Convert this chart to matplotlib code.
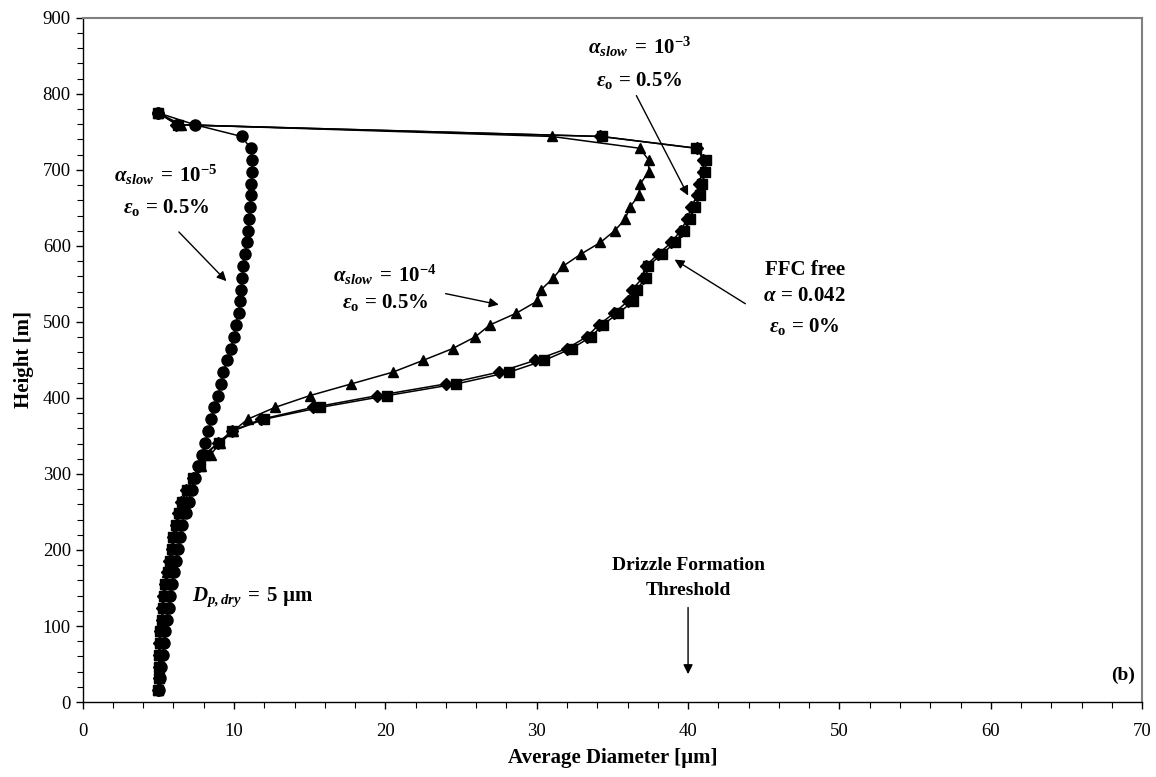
import matplotlib
matplotlib.use("Agg")
import matplotlib.pyplot as plt
from matplotlib.ticker import MultipleLocator

plt.rcParams['font.family'] = ['Liberation Serif', 'DejaVu Serif']
plt.rcParams['mathtext.fontset'] = 'custom'
plt.rcParams['mathtext.rm'] = 'Liberation Serif'
plt.rcParams['mathtext.it'] = 'Liberation Serif:italic'
plt.rcParams['mathtext.bf'] = 'Liberation Serif:bold'
plt.rcParams['mathtext.bfit'] = 'Liberation Serif:bold:italic'

heights = [775, 759.5, 744, 728.5, 713, 697.5, 682, 666.5, 651, 635.5,
           620, 604.5, 589, 573.5, 558, 542.5, 527, 511.5, 496, 480.5,
           465, 449.5, 434, 418.5, 403, 387.5, 372, 356.5, 341, 325.5,
           310, 294.5, 279, 263.5, 248, 232.5, 217, 201.5, 186, 170.5,
           155, 139.5, 124, 108.5, 93, 77.5, 62, 46.5, 31, 15.5]

d_slow5 = [5.0, 7.4, 10.5, 11.1, 11.2, 11.2, 11.15, 11.1, 11.05, 11.0,
           10.95, 10.85, 10.7, 10.6, 10.55, 10.45, 10.4, 10.3, 10.1, 10.0,
           9.8, 9.55, 9.3, 9.15, 8.95, 8.7, 8.5, 8.3, 8.1, 7.9,
           7.65, 7.4, 7.2, 7.0, 6.8, 6.55, 6.45, 6.3, 6.2, 6.05,
           5.9, 5.8, 5.7, 5.55, 5.45, 5.35, 5.3, 5.2, 5.1, 5.05]

d_slow4 = [5.0, 6.5, 31.0, 36.8, 37.4, 37.4, 36.85, 36.75, 36.15, 35.85,
           35.15, 34.2, 32.9, 31.75, 31.1, 30.3, 30.0, 28.65, 26.9, 25.95,
           24.45, 22.5, 20.5, 17.75, 15.0, 12.7, 10.9, 9.95, 9.1, 8.45,
           7.8, 7.3, 6.9, 6.55, 6.35, 6.2, 6.0, 5.9, 5.75, 5.6,
           5.45, 5.35, 5.28, 5.22, 5.13, 5.08, 5.06, 5.04, 5.02, 5.0]

d_ffc = [5.0, 6.2, 34.2, 40.6, 41.0, 41.0, 40.7, 40.6, 40.2, 39.95,
         39.5, 38.9, 38.0, 37.2, 37.0, 36.3, 36.0, 35.1, 34.1, 33.3,
         32.0, 29.9, 27.5, 24.0, 19.45, 15.2, 11.8, 9.85, 8.95, 8.05,
         7.7, 7.28, 6.85, 6.52, 6.32, 6.16, 5.98, 5.88, 5.72, 5.6,
         5.45, 5.34, 5.27, 5.23, 5.12, 5.07, 5.05, 5.04, 5.02, 5.0]

d_slow3 = [5.0, 6.3, 34.3, 40.5, 41.2, 41.15, 40.9, 40.8, 40.45, 40.15,
           39.7, 39.15, 38.25, 37.35, 37.2, 36.6, 36.35, 35.4, 34.35, 33.6,
           32.3, 30.5, 28.2, 24.7, 20.1, 15.7, 12.0, 9.9, 9.0, 8.1,
           7.75, 7.3, 6.88, 6.55, 6.34, 6.18, 6.0, 5.9, 5.74, 5.61,
           5.46, 5.35, 5.28, 5.24, 5.13, 5.08, 5.06, 5.05, 5.02, 5.0]

fig = plt.figure(figsize=(11.56, 7.77), dpi=100)
ax = fig.add_axes([0.0715, 0.0965, 0.9165, 0.8805])

lw = 1.1
ax.plot(d_slow5, heights, color='black', lw=lw, marker='o', ms=8.0, zorder=3)
ax.plot(d_slow4, heights, color='black', lw=lw, marker='^', ms=7.5, zorder=3)
ax.plot(d_ffc, heights, color='black', lw=lw, marker='D', ms=6.0, zorder=3)
ax.plot(d_slow3, heights, color='black', lw=lw, marker='s', ms=7.0, zorder=3)

ax.set_xlim(0, 70)
ax.set_ylim(0, 900)
ax.xaxis.set_major_locator(MultipleLocator(10))
ax.xaxis.set_minor_locator(MultipleLocator(2))
ax.yaxis.set_major_locator(MultipleLocator(100))
ax.yaxis.set_minor_locator(MultipleLocator(20))
ax.tick_params(which='both', direction='out', labelsize=13.5, colors='black')
ax.tick_params(which='major', length=5, width=1)
ax.tick_params(which='minor', length=4, width=0.8)
ax.tick_params(axis='x', pad=10)
for s in ['top', 'right']:
    ax.spines[s].set_color('#808080')
    ax.spines[s].set_linewidth(1.5)
for s in ['left', 'bottom']:
    ax.spines[s].set_linewidth(1.0)

ax.set_xlabel('Average Diameter [µm]', fontsize=15, fontweight='bold', labelpad=6)
ax.set_ylabel('Height [m]', fontsize=15, fontweight='bold', labelpad=6)

fs = 15
alpha_txt = r'$\mathbfit{\alpha}_{\mathbfit{slow}}\;\mathbf{=}\;\mathbf{10^{-%d}}$'
eps_txt = r'$\mathbfit{\varepsilon}_{\mathbf{o}}\,\mathbf{=}\,\mathbf{%s\%%}$'
arrow = dict(arrowstyle='-|>', color='black', lw=1, mutation_scale=14)

ax.text(5.5, 694, alpha_txt % 5, fontsize=fs, ha='center', va='center')
ax.text(5.5, 651, eps_txt % '0.5', fontsize=fs, ha='center', va='center')
ax.annotate('', xy=(9.63, 551), xytext=(6.23, 621), arrowprops=arrow)

ax.text(20.0, 562, alpha_txt % 4, fontsize=fs, ha='center', va='center')
ax.text(20.0, 525, eps_txt % '0.5', fontsize=fs, ha='center', va='center')
ax.annotate('', xy=(27.67, 522), xytext=(23.8, 538), arrowprops=arrow)

ax.text(36.8, 862, alpha_txt % 3, fontsize=fs, ha='center', va='center')
ax.text(36.8, 818, eps_txt % '0.5', fontsize=fs, ha='center', va='center')
ax.annotate('', xy=(40.09, 663), xytext=(36.5, 801), arrowprops=arrow)

ax.text(47.7, 568, 'FFC free', fontsize=fs, fontweight='bold', ha='center', va='center')
ax.text(47.7, 533, r'$\mathbfit{\alpha}\,\mathbf{=}\,\mathbf{0.042}$', fontsize=fs, ha='center', va='center')
ax.text(47.7, 494, eps_txt % '0', fontsize=fs, ha='center', va='center')
ax.annotate('', xy=(38.95, 584), xytext=(43.94, 522), arrowprops=arrow)

ax.text(7.2, 138, r'$\mathbfit{D}_{\mathbfit{p,dry}}\;\mathbf{=}\;\mathbf{5\ µm}$', fontsize=fs, ha='left', va='center')

ax.text(40.0, 180, 'Drizzle Formation', fontsize=14, fontweight='bold', ha='center', va='center')
ax.text(40.0, 147, 'Threshold', fontsize=14, fontweight='bold', ha='center', va='center')
ax.annotate('', xy=(40.0, 33), xytext=(40.0, 128), arrowprops=arrow)

ax.text(69.5, 35, '(b)', fontsize=14, fontweight='bold', ha='right', va='center')

fig.savefig('out.png', dpi=100)
